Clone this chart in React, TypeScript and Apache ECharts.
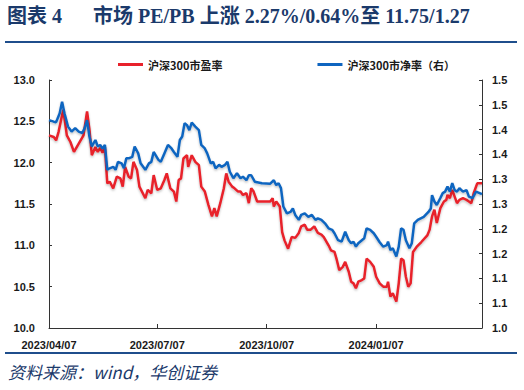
import React, { useEffect, useRef } from "react";
import * as echarts from "echarts";

const xTickDays = [0, 91, 183, 275];
const xTickLabels = ["2023/04/07", "2023/07/07", "2023/10/07", "2024/01/07"];
const rightTickLabels = ["1.0", "1.1", "1.1", "1.2", "1.2", "1.3", "1.3", "1.4", "1.4", "1.5", "1.5"];

const peName = "沪深300市盈率";
const pbName = "沪深300市净率（右）";

// day offsets from 2023/04/07
const peDays = [0,4,6,8,12,15,18,21,25,29,32,34,36,39,41,43,45,47,49,51,54,57,60,62,64,67,69,71,74,76,81,83,86,88,91,94,97,99,102,105,107,109,111,113,116,117,120,123,126,128,131,134,137,139,141,144,147,149,151,154,156,159,161,163,166,168,170,172,175,179,186,188,189,191,194,196,198,201,204,207,210,212,215,217,220,223,226,229,231,235,237,240,242,244,247,249,252,254,256,258,260,263,265,267,270,273,275,278,281,284,285,287,289,292,294,296,298,300,302,304,306,309,313,318,320,322,324,326,327,329,332,334,335,337,339,341,343,345,348,351,353,355,357,360,364];
const peValues = [12.33,12.31,12.27,12.37,12.64,12.33,12.25,12.13,12.23,12.33,12.62,12.40,12.09,12.19,12.13,12.18,12.12,12.19,11.75,11.77,11.69,11.83,11.81,11.71,11.95,11.83,11.81,12.01,11.91,11.71,11.57,11.67,11.63,11.85,11.67,11.69,11.79,11.87,11.69,11.65,11.53,11.79,11.81,12.05,12.09,11.95,12.09,12.01,11.97,11.71,11.65,11.49,11.35,11.45,11.35,11.51,11.69,11.87,11.77,11.71,11.69,11.65,11.65,11.61,11.63,11.51,11.69,11.65,11.53,11.53,11.53,11.57,11.47,11.53,11.47,11.16,11.06,10.96,11.10,11.09,11.15,11.23,11.25,11.19,11.19,11.23,11.15,11.13,11.10,11.00,10.94,10.92,10.82,10.70,10.74,10.80,10.68,10.56,10.54,10.48,10.56,10.58,10.60,10.84,10.80,10.74,10.62,10.54,10.50,10.50,10.56,10.38,10.42,10.32,10.54,10.84,10.82,10.62,10.50,10.54,10.92,10.98,11.04,11.12,11.19,11.35,11.43,11.27,11.33,11.45,11.53,11.55,11.61,11.57,11.67,11.59,11.51,11.55,11.57,11.55,11.53,11.51,11.63,11.75,11.75];

const pbDays = [0,4,6,9,11,13,16,19,22,25,28,30,32,34,36,39,41,43,45,47,49,51,54,56,58,61,63,65,67,70,72,75,77,81,84,86,88,92,94,97,100,103,105,108,110,112,114,116,118,120,123,126,128,131,133,136,138,140,143,145,148,150,152,155,158,161,163,166,168,170,173,179,186,189,191,193,195,197,200,203,205,207,210,212,215,218,221,224,226,229,232,235,238,240,243,246,249,252,254,256,258,260,263,265,267,270,273,275,278,281,284,285,287,289,292,294,296,298,300,303,305,307,310,315,319,321,322,324,326,329,331,333,335,337,339,341,343,345,348,351,353,356,359,362,364];
const pbValues = [1.419,1.416,1.415,1.433,1.456,1.433,1.406,1.396,1.403,1.396,1.393,1.403,1.419,1.386,1.366,1.379,1.366,1.369,1.362,1.369,1.319,1.322,1.325,1.319,1.335,1.332,1.322,1.342,1.342,1.345,1.366,1.352,1.332,1.319,1.332,1.335,1.355,1.339,1.335,1.352,1.369,1.362,1.355,1.345,1.379,1.386,1.413,1.409,1.399,1.414,1.406,1.399,1.369,1.362,1.352,1.332,1.335,1.322,1.329,1.325,1.329,1.335,1.315,1.302,1.312,1.302,1.305,1.298,1.308,1.308,1.295,1.292,1.291,1.298,1.288,1.292,1.282,1.245,1.231,1.234,1.241,1.228,1.218,1.228,1.231,1.224,1.228,1.218,1.221,1.218,1.211,1.201,1.198,1.191,1.177,1.174,1.194,1.177,1.171,1.174,1.164,1.171,1.177,1.181,1.201,1.198,1.191,1.184,1.173,1.164,1.167,1.174,1.157,1.161,1.144,1.164,1.201,1.198,1.177,1.161,1.171,1.211,1.218,1.224,1.234,1.241,1.268,1.255,1.248,1.262,1.272,1.275,1.285,1.275,1.292,1.278,1.275,1.282,1.275,1.278,1.265,1.262,1.275,1.272,1.27];

const RED = "#E8212B";
const BLUE = "#0F65C0";
const NAVY = "#1B3A6B";
const AXIS = "#333333";
const TXT = "#1a1a1a";

export default function App() {
  const ref = useRef<HTMLDivElement>(null);
  useEffect(() => {
    if (!ref.current) return;
    const chart = echarts.init(ref.current, null, { renderer: "svg" });
    const peData = peDays.map((d, i) => [d, peValues[i]]);
    const pbData = pbDays.map((d, i) => [d, pbValues[i]]);
    const labelFont = { fontFamily: "Liberation Sans, Arial, sans-serif", fontWeight: "bold" as const, fontSize: 11, color: TXT };
    chart.setOption({
      animation: false,
      backgroundColor: "#ffffff",
      graphic: [
        { type: "text", left: 7, top: 6, style: { text: "图表 4", font: "bold 20px 'Liberation Serif', 'Noto Sans CJK SC'", fill: NAVY } },
        { type: "text", left: 93, top: 6, style: { text: "市场 PE/PB 上涨 2.27%/0.64%至 11.75/1.27", font: "bold 20px 'Liberation Serif', 'Noto Sans CJK SC'", fill: NAVY } },
        { type: "rect", shape: { x: 5, y: 41, width: 512, height: 2 }, style: { fill: "#1F4E8C" } },
        { type: "rect", shape: { x: 5, y: 352, width: 512, height: 2 }, style: { fill: "#1F4E8C" } },
        { type: "text", left: 8, top: 363, style: { text: "资料来源：wind，华创证券", font: "italic 17px 'Noto Sans CJK SC'", fill: NAVY } },
      ],
      legend: {
        left: 113,
        top: 54,
        itemWidth: 25,
        itemHeight: 3,
        itemGap: 95,
        icon: "rect",
        textStyle: { fontSize: 11, fontWeight: "bold", color: TXT, fontFamily: "Noto Sans CJK SC" },
        data: [peName, pbName],
      },
      grid: { left: 49, right: 42, top: 80, bottom: 62, containLabel: false },
      xAxis: {
        type: "value",
        min: 0,
        max: 364,
        splitLine: { show: false },
        axisLine: { show: true, lineStyle: { color: AXIS, width: 1 } },
        axisTick: { show: true, inside: true, length: 4, lineStyle: { color: AXIS }, customValues: xTickDays },
        axisLabel: {
          ...labelFont,
          margin: 11,
          customValues: xTickDays,
          formatter: (v: number) => xTickLabels[xTickDays.indexOf(Math.round(v))] ?? "",
        },
      },
      yAxis: [
        {
          type: "value",
          min: 10,
          max: 13,
          interval: 0.5,
          splitLine: { show: false },
          axisLine: { show: true, lineStyle: { color: AXIS, width: 1 } },
          axisTick: { show: true, inside: true, length: 3, lineStyle: { color: AXIS } },
          axisLabel: { ...labelFont, margin: 14, formatter: (v: number) => v.toFixed(1) },
        },
        {
          type: "value",
          min: 1.0,
          max: 1.5,
          interval: 0.05,
          position: "right",
          splitLine: { show: false },
          axisLine: { show: true, lineStyle: { color: AXIS, width: 1 } },
          axisTick: { show: true, inside: true, length: 3, lineStyle: { color: AXIS } },
          axisLabel: { ...labelFont, margin: 10, formatter: (v: number) => rightTickLabels[Math.round((v - 1) / 0.05)] ?? "" },
        },
      ],
      series: [
        {
          name: peName,
          type: "line",
          yAxisIndex: 0,
          data: peData,
          showSymbol: false,
          symbol: "none",
          color: RED,
          lineStyle: { color: RED, width: 2.5, shadowColor: "rgba(0,0,0,0.25)", shadowBlur: 2, shadowOffsetY: 1.5 },
        },
        {
          name: pbName,
          type: "line",
          yAxisIndex: 1,
          data: pbData,
          showSymbol: false,
          symbol: "none",
          color: BLUE,
          lineStyle: { color: BLUE, width: 2.5, shadowColor: "rgba(0,0,0,0.25)", shadowBlur: 2, shadowOffsetY: 1.5 },
        },
      ],
    });
    return () => chart.dispose();
  }, []);
  return <div ref={ref} style={{ width: 524, height: 390, position: "absolute", left: 0, top: 0 }} />;
}
